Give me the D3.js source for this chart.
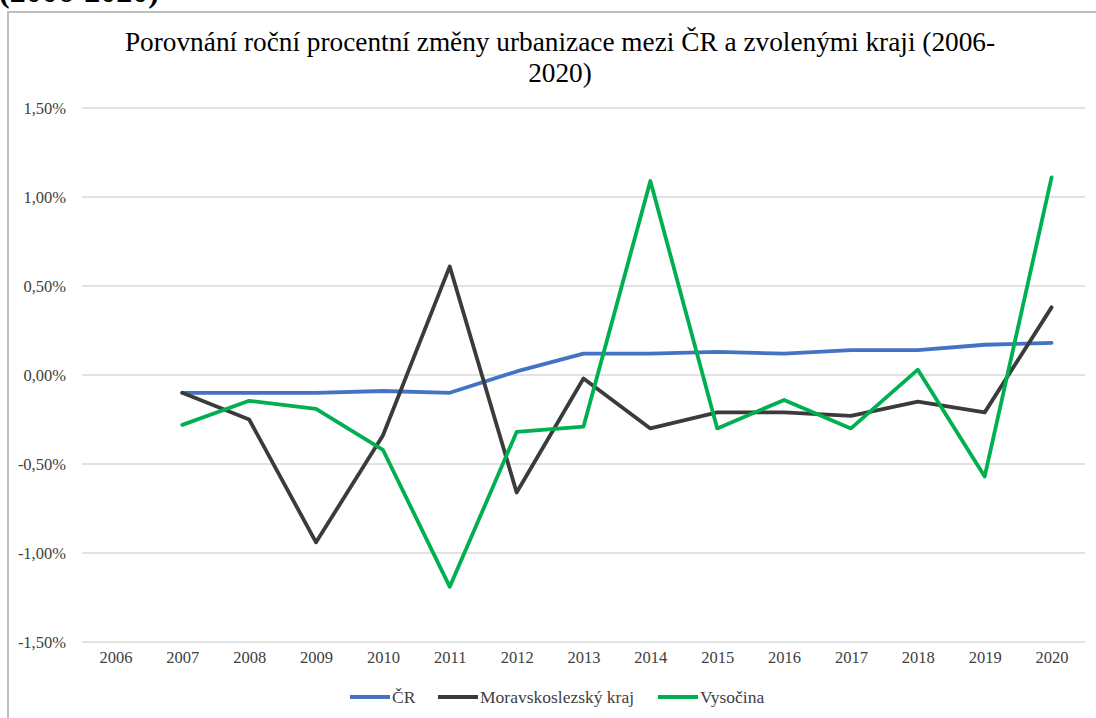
<!DOCTYPE html>
<html><head><meta charset="utf-8">
<script src="https://cdn.jsdelivr.net/npm/d3@7"></script>
<style>html,body{margin:0;padding:0;background:#fff;overflow:hidden}</style>
</head><body>
<svg id="c" width="1096" height="718"></svg>
<script>
const years = ["2006","2007","2008","2009","2010","2011","2012","2013","2014","2015","2016","2017","2018","2019","2020"];
const cr   = [null,-0.10,-0.10,-0.10,-0.09,-0.10,0.02,0.12,0.12,0.13,0.12,0.14,0.14,0.17,0.18];
const msk  = [null,-0.10,-0.25,-0.94,-0.34,0.61,-0.66,-0.02,-0.30,-0.21,-0.21,-0.23,-0.15,-0.21,0.38];
const vys  = [null,-0.28,-0.145,-0.19,-0.42,-1.19,-0.32,-0.29,1.09,-0.30,-0.14,-0.30,0.03,-0.57,1.11];
const yTicks = [-1.5,-1.0,-0.5,0,0.5,1.0,1.5];
const seriesNames = ["ČR","Moravskoslezský kraj","Vysočina"];
const seriesColors = ["#4472C4","#3B3B3B","#00B050"];
const titleLines = ["Porovnání roční procentní změny urbanizace mezi ČR a zvolenými kraji (2006-","2020)"];
const headerText = "(2006-2020)";

const svg = d3.select("#c");
const serif = "'Liberation Serif','Times New Roman',serif";

// clipped heading from page above
svg.append("text").attr("x",-1).attr("y",2).attr("font-family",serif).attr("font-weight","bold")
  .attr("font-size",32).attr("fill","#000").text(headerText);

// chart border
svg.append("rect").attr("x",8).attr("y",12).attr("width",1200).attr("height",800)
  .attr("fill","#fff").attr("stroke","#BFBFBF").attr("stroke-width",2);

const x = d3.scalePoint().domain(years).range([82,1085]).padding(0.5);
const y = d3.scaleLinear().domain([-1.5,1.5]).range([642,108]);

// gridlines
svg.append("g").selectAll("line").data(yTicks).join("line")
  .attr("x1",82).attr("x2",1085).attr("y1",d=>y(d)).attr("y2",d=>y(d))
  .attr("stroke","#D9D9D9").attr("stroke-width",1.3);

const fmt = d => d3.format(".2f")(d).replace(".",",").replace("−","-") + "%";
const yAxis = d3.axisLeft(y).tickValues(yTicks).tickSize(0).tickPadding(0).tickFormat(fmt);
const gy = svg.append("g").attr("transform","translate(66,0)").call(yAxis);
gy.select(".domain").remove();
gy.selectAll("text").attr("font-family",serif).attr("font-size",16.5).attr("fill","#404040");

const xAxis = d3.axisBottom(x).tickSize(0).tickPadding(0);
const gx = svg.append("g").attr("transform","translate(0,651)").call(xAxis);
gx.select(".domain").remove();
gx.selectAll("text").attr("font-family",serif).attr("font-size",16.5).attr("fill","#404040").attr("dy","0.71em");

// title
svg.append("g").selectAll("text").data(titleLines).join("text")
  .attr("x",560).attr("y",(d,i)=>51+i*31).attr("text-anchor","middle")
  .attr("font-family",serif).attr("font-size",27.3).attr("fill","#000").text(d=>d);

const line = d3.line().defined(d=>d!=null).x((d,i)=>x(years[i])).y(d=>y(d));
[cr,msk,vys].forEach((s,k)=>{
  svg.append("path").datum(s).attr("d",line).attr("fill","none")
    .attr("stroke",seriesColors[k]).attr("stroke-width",3.8)
    .attr("stroke-linejoin","round").attr("stroke-linecap","round");
});

// legend
const legX = [350,438,658];
const lg = svg.append("g");
seriesNames.forEach((n,k)=>{
  lg.append("line").attr("x1",legX[k]).attr("x2",legX[k]+40).attr("y1",697).attr("y2",697)
    .attr("stroke",seriesColors[k]).attr("stroke-width",3.8);
  lg.append("text").attr("x",legX[k]+42).attr("y",703).attr("font-family",serif)
    .attr("font-size",17.5).attr("fill","#404040").text(n);
});
</script>
</body></html>
